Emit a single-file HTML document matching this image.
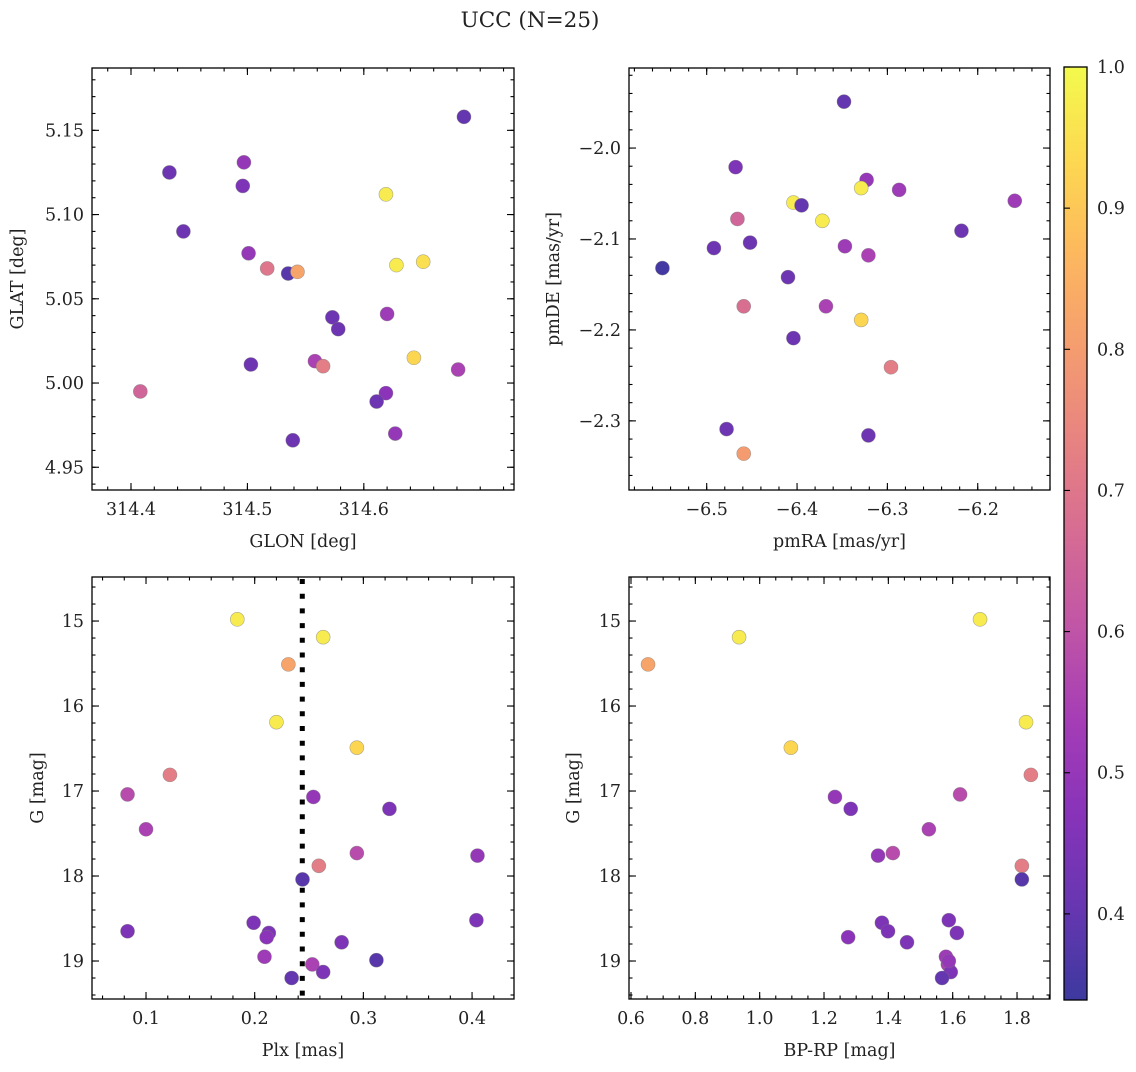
<!DOCTYPE html>
<html><head><meta charset="utf-8"><style>
body{margin:0;background:#fff;}
svg text{font-family:"DejaVu Serif","Liberation Serif",serif;fill:#222;}
</style></head><body>
<svg id="fig" width="1136" height="1067" xmlns="http://www.w3.org/2000/svg">
<text x="530" y="27" font-size="21.5" text-anchor="middle">UCC (N=25)</text>
</svg>
<script>
const tlX=[314.686,314.433,314.497,314.496,314.445,314.619,314.501,314.517,314.535,314.543,314.628,314.651,314.573,314.578,314.620,314.558,314.565,314.643,314.681,314.503,314.408,314.619,314.611,314.627,314.539];
const tlY=[5.158,5.125,5.131,5.117,5.090,5.112,5.077,5.068,5.065,5.066,5.070,5.072,5.039,5.032,5.041,5.013,5.010,5.015,5.008,5.011,4.995,4.994,4.989,4.970,4.966];
const tlP=[0.4,0.42,0.5,0.45,0.42,0.97,0.5,0.7,0.38,0.82,0.97,0.95,0.42,0.42,0.52,0.55,0.72,0.93,0.55,0.42,0.65,0.48,0.42,0.5,0.42];
const trX=[-6.348,-6.468,-6.404,-6.395,-6.323,-6.329,-6.287,-6.159,-6.372,-6.466,-6.492,-6.452,-6.347,-6.321,-6.218,-6.549,-6.410,-6.459,-6.368,-6.329,-6.404,-6.296,-6.478,-6.321,-6.459];
const trY=[-1.949,-2.021,-2.060,-2.063,-2.035,-2.044,-2.046,-2.058,-2.080,-2.078,-2.110,-2.104,-2.108,-2.118,-2.091,-2.132,-2.142,-2.174,-2.174,-2.189,-2.209,-2.241,-2.309,-2.316,-2.336];
const trP=[0.4,0.45,0.97,0.4,0.5,0.97,0.52,0.52,0.97,0.65,0.42,0.42,0.52,0.55,0.42,0.35,0.42,0.68,0.55,0.93,0.42,0.72,0.42,0.42,0.8];
const blX=[0.184,0.263,0.231,0.220,0.294,0.122,0.083,0.254,0.324,0.100,0.259,0.294,0.405,0.244,0.199,0.213,0.211,0.083,0.404,0.280,0.209,0.253,0.312,0.263,0.234];
const blY=[14.98,15.19,15.51,16.19,16.49,16.81,17.04,17.07,17.21,17.45,17.88,17.73,17.76,18.04,18.55,18.67,18.72,18.65,18.52,18.78,18.95,19.04,18.99,19.13,19.2];
const blP=[0.97,0.97,0.82,0.97,0.93,0.72,0.58,0.5,0.45,0.55,0.72,0.58,0.5,0.38,0.45,0.45,0.48,0.45,0.45,0.45,0.52,0.55,0.38,0.45,0.4];
const plxLine=[0.2438];
const brX=[1.685,0.936,0.653,1.828,1.097,1.843,1.623,1.234,1.283,1.526,1.815,1.414,1.368,1.815,1.380,1.588,1.399,1.613,1.275,1.458,1.579,1.585,1.594,1.567,1.588];
const brY=[14.98,15.19,15.51,16.19,16.49,16.81,17.04,17.07,17.21,17.45,17.88,17.73,17.76,18.04,18.55,18.52,18.65,18.67,18.72,18.78,18.95,19.04,19.13,19.2,19.0];
const brP=[0.97,0.97,0.82,0.97,0.93,0.72,0.58,0.5,0.45,0.55,0.72,0.58,0.5,0.38,0.45,0.45,0.45,0.45,0.48,0.45,0.52,0.55,0.45,0.4,0.5];
const cbTicks=[0.4,0.5,0.6,0.7,0.8,0.9,1.0];

const NS="http://www.w3.org/2000/svg";
const svg=document.getElementById('fig');
const vmin=0.339,vmax=1.0;
const stops=[[13,8,135],[65,4,157],[106,0,168],[143,13,164],[177,42,144],[204,71,120],[225,100,98],[242,132,75],[252,166,54],[252,206,37],[240,249,33]];
function cmap(v){let t=Math.max(0,Math.min(1,(v-vmin)/(vmax-vmin)))*10;let i=Math.min(9,Math.floor(t));let f=t-i;
 const c=stops[i].map((a,k)=>a+(stops[i+1][k]-a)*f).map(a=>Math.round(a*0.8+255*0.2));return `rgb(${c[0]},${c[1]},${c[2]})`;}
function mk(tag,attrs,parent){const e=document.createElementNS(NS,tag);for(const k in attrs)e.setAttribute(k,attrs[k]);(parent||svg).appendChild(e);return e;}
function fmt(v,d){return v.toFixed(d).replace('-','−');}
const FS=17.5;
function panel(o){
 const g=mk('g',{});
 
 
 const sx=v=>o.L+(v-o.x0)/(o.x1-o.x0)*(o.R-o.L);
 const sy=v=>o.inv? o.T+(v-o.y0)/(o.y1-o.y0)*(o.B-o.T) : o.B-(v-o.y0)/(o.y1-o.y0)*(o.B-o.T);
 if(o.vline){for(const v of o.vline){const l=mk('line',{x1:sx(v),x2:sx(v),y1:o.T+2,y2:o.B,stroke:'#000','stroke-width':5,'stroke-dasharray':'5,9.7'},g);
  
  }}
 for(let i=0;i<o.xs.length;i++){const c=mk('circle',{cx:sx(o.xs[i]),cy:sy(o.ys[i]),r:7,fill:cmap(o.ps[i]),stroke:'rgba(120,120,120,0.6)','stroke-width':0.6},g);
  
  }
 const fr=mk('rect',{x:o.L,y:o.T,width:o.R-o.L,height:o.B-o.T,fill:'none',stroke:'#000','stroke-width':1.3},g);
 
 
 const tick=(x1,y1,x2,y2)=>mk('line',{x1,y1,x2,y2,stroke:'#000','stroke-width':1.1},g);
 for(let v=Math.ceil(o.x0/o.xm-1e-6)*o.xm;v<=o.x1;v+=o.xm){const x=sx(v);tick(x,o.B,x,o.B-3.5);tick(x,o.T,x,o.T+3.5);}
 for(let v=Math.ceil(Math.min(o.y0,o.y1)/o.ym-1e-6)*o.ym;v<=Math.max(o.y0,o.y1);v+=o.ym){const y=sy(v);tick(o.L,y,o.L+3.5,y);tick(o.R,y,o.R-3.5,y);}
 for(const v of o.xt){const x=sx(v);tick(x,o.B,x,o.B-7);tick(x,o.T,x,o.T+7);
  const t=mk('text',{x,y:o.B+25,'font-size':FS,'text-anchor':'middle'},g);t.textContent=fmt(v,o.xd);
  
  }
 for(const v of o.yt){const y=sy(v);tick(o.L,y,o.L+7,y);tick(o.R,y,o.R-7,y);
  const t=mk('text',{x:o.L-8,y:y+6,'font-size':FS,'text-anchor':'end'},g);t.textContent=fmt(v,o.yd);
  
  }
 const xl=mk('text',{x:(o.L+o.R)/2,y:o.B+57,'font-size':FS,'text-anchor':'middle'},g);xl.textContent=o.xlab;
 
 
 const yx=o.L-o.ylo,yy=(o.T+o.B)/2;
 const yl=mk('text',{x:yx,y:yy,'font-size':FS,'text-anchor':'middle',transform:`rotate(-90 ${yx} ${yy})`},g);yl.textContent=o.ylab;
 
 
}
panel({name:'glon-glat-panel',L:92,R:514,T:68,B:490,x0:314.3665,x1:314.729,y0:4.9365,y1:5.187,xs:tlX,ys:tlY,ps:tlP,xt:[314.4,314.5,314.6],xd:1,xm:0.02,yt:[4.95,5.0,5.05,5.10,5.15],yd:2,ym:0.01,xlab:'GLON [deg]',ylab:'GLAT [deg]',ylo:69});
panel({name:'proper-motion-panel',L:629,R:1050,T:68,B:490,x0:-6.586,x1:-6.120,y0:-2.376,y1:-1.912,xs:trX,ys:trY,ps:trP,xt:[-6.5,-6.4,-6.3,-6.2],xd:1,xm:0.02,yt:[-2.0,-2.1,-2.2,-2.3],yd:1,ym:0.02,xlab:'pmRA [mas/yr]',ylab:'pmDE [mas/yr]',ylo:70});
panel({name:'plx-g-panel',L:92,R:514,T:577,B:999,inv:true,x0:0.0503,x1:0.4386,y0:14.482,y1:19.447,xs:blX,ys:blY,ps:blP,xt:[0.1,0.2,0.3,0.4],xd:1,xm:0.02,yt:[15,16,17,18,19],yd:0,ym:0.2,xlab:'Plx [mas]',ylab:'G [mag]',ylo:49,vline:plxLine});
panel({name:'cmd-panel',L:629,R:1050,T:577,B:999,inv:true,x0:0.5938,x1:1.9025,y0:14.482,y1:19.447,xs:brX,ys:brY,ps:brP,xt:[0.6,0.8,1.0,1.2,1.4,1.6,1.8],xd:1,xm:0.05,yt:[15,16,17,18,19],yd:0,ym:0.2,xlab:'BP-RP [mag]',ylab:'G [mag]',ylo:50});
const cb=mk('g',{});


const defs=mk('defs',{},cb);const lg=mk('linearGradient',{id:'cbg',x1:0,y1:1,x2:0,y2:0},defs);
for(let i=0;i<=20;i++){const v=vmin+(vmax-vmin)*i/20;mk('stop',{offset:i/20,'stop-color':cmap(v)},lg);}
const CT=67,CB=1000,CL=1064,CR=1087;
mk('rect',{x:CL,y:CT,width:CR-CL,height:CB-CT,fill:'url(#cbg)',stroke:'#000','stroke-width':1.3},cb);
const cy=v=>CB-(v-vmin)/(vmax-vmin)*(CB-CT);
for(const v of cbTicks){const y=cy(v);mk('line',{x1:CL,x2:CL+6,y1:y,y2:y,stroke:'#000','stroke-width':1.1},cb);
 const t=mk('text',{x:CR+10,y:y+6,'font-size':FS},cb);t.textContent=v.toFixed(1);
 
 }
</script>
</body></html>
